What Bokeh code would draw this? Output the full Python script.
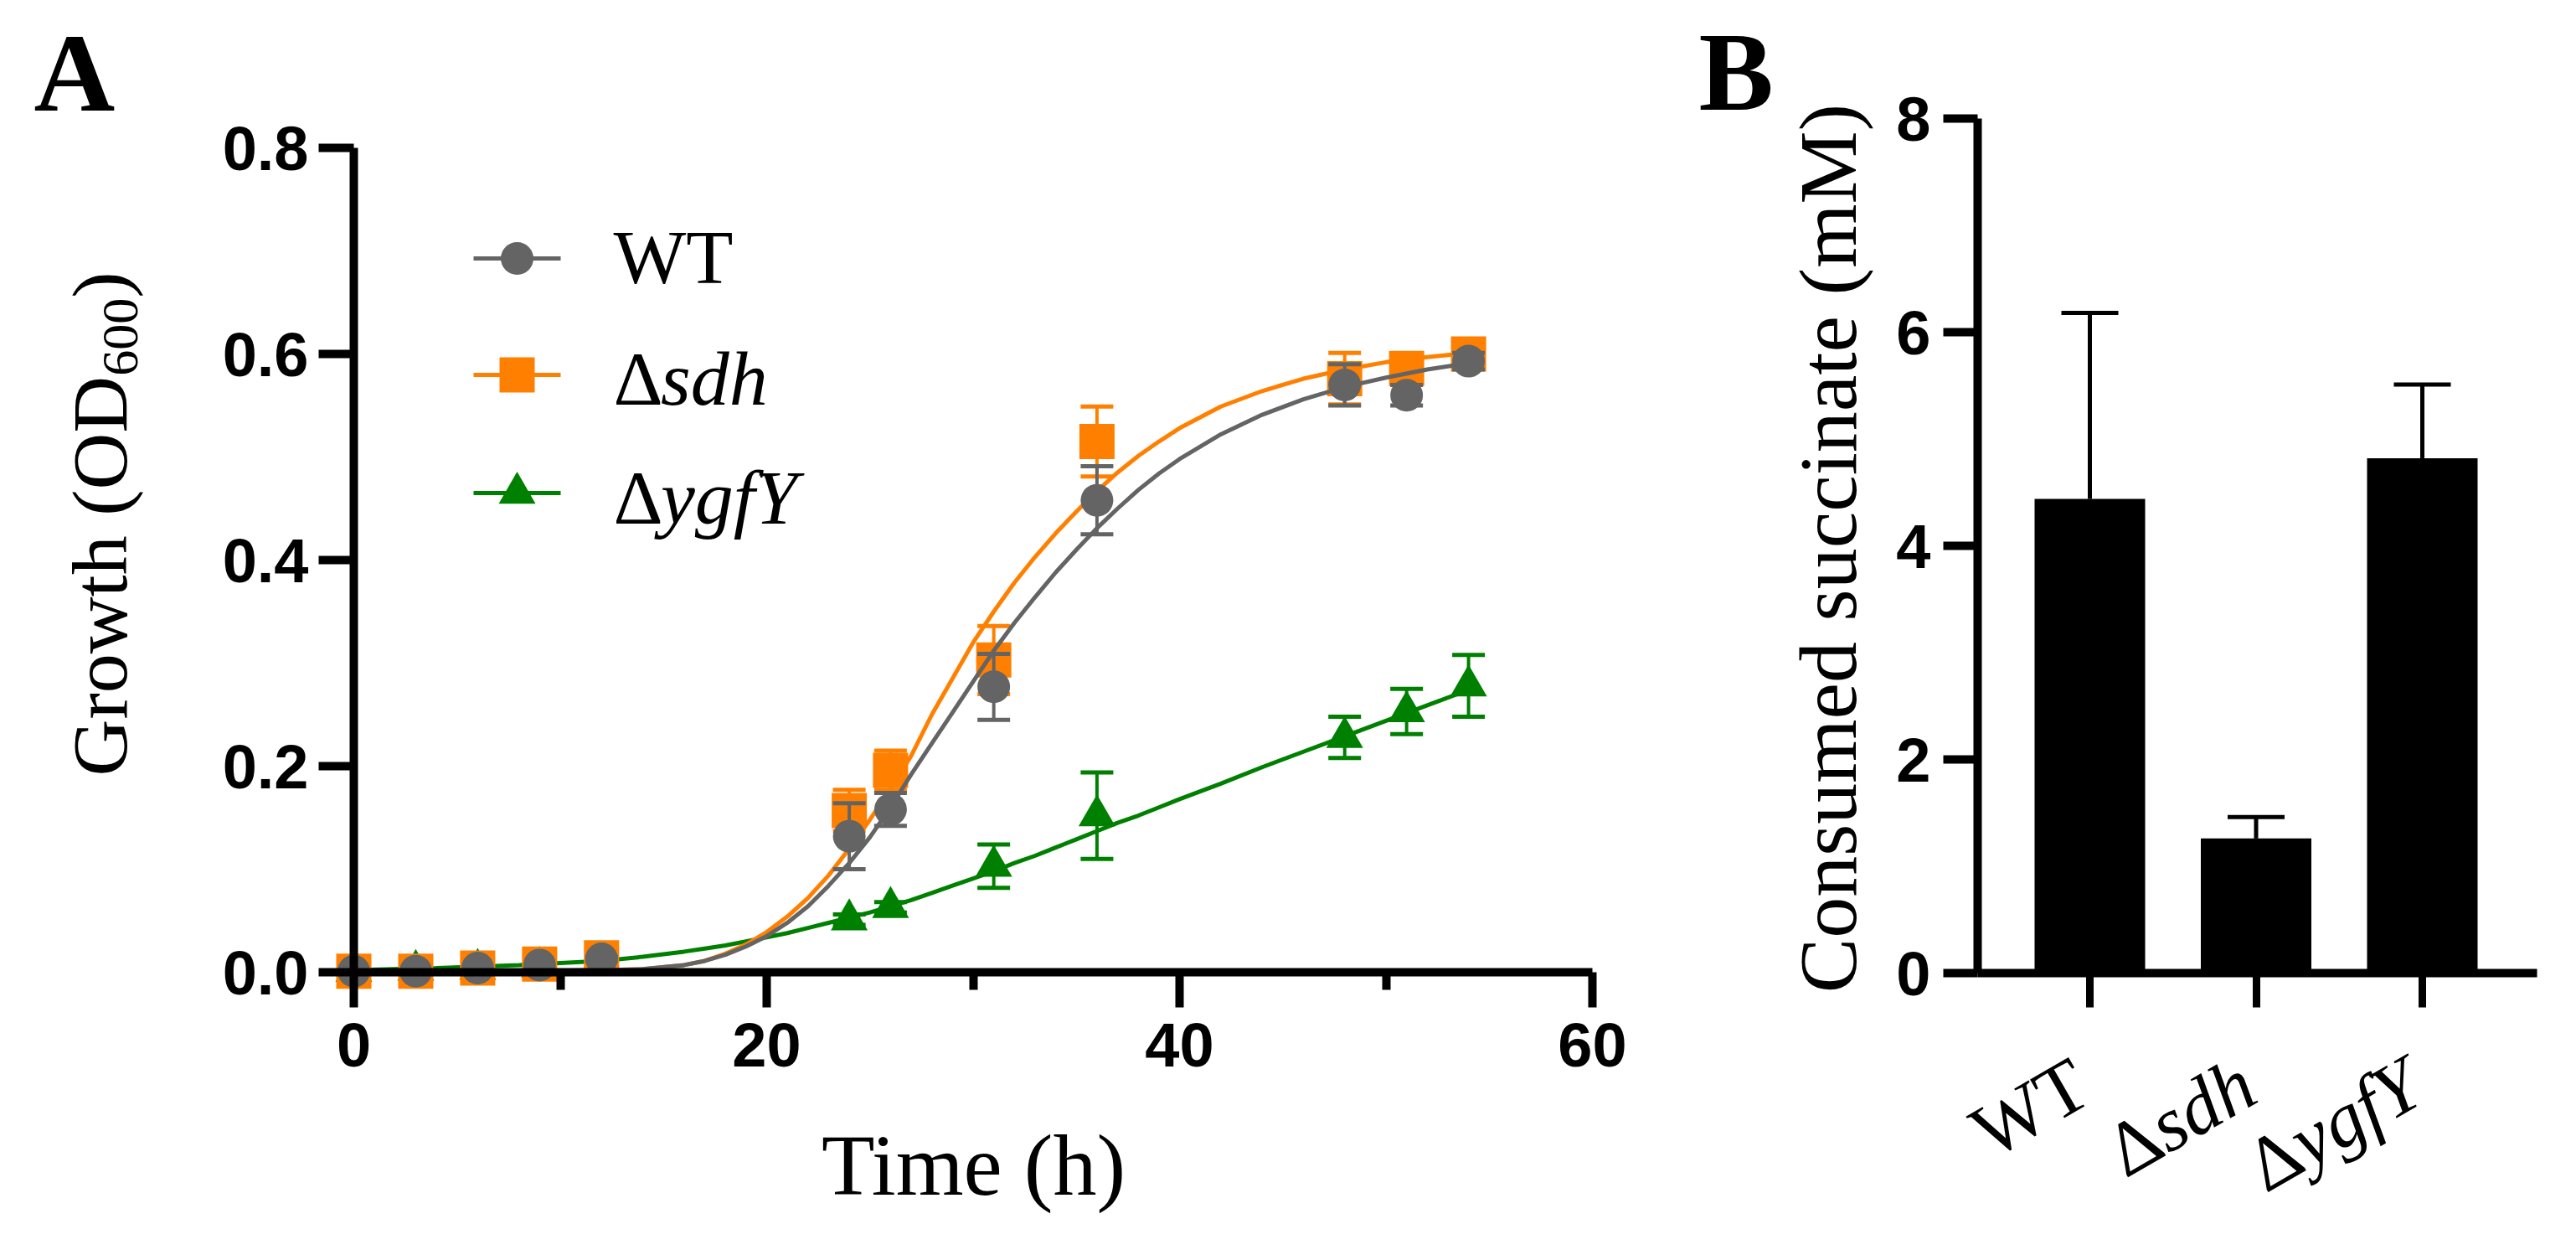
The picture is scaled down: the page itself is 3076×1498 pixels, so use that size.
import math
from bokeh.plotting import figure
from bokeh.layouts import row
from bokeh.models import Range1d, FixedTicker, NumeralTickFormatter
from bokeh.core.properties import value
from bokeh.embed import file_html
from bokeh.resources import INLINE

# ---------------- data ----------------
time_h = [0, 3, 6, 9, 12, 24, 26, 31, 36, 48, 51, 54]
wt_od = [0.001, 0.001, 0.004, 0.007, 0.013, 0.132, 0.158, 0.277, 0.458, 0.570, 0.560, 0.593]
wt_sd = [0.0, 0.0, 0.0, 0.0, 0.002, 0.032, 0.016, 0.032, 0.033, 0.020, 0.010, 0.008]
sdh_od = [0.001, 0.001, 0.004, 0.008, 0.014, 0.157, 0.196, 0.303, 0.515, 0.576, 0.586, 0.600]
sdh_sd = [0.0, 0.0, 0.0, 0.0, 0.002, 0.020, 0.019, 0.033, 0.034, 0.025, 0.012, 0.008]
ygfy_od = [0.001, 0.002, 0.003, 0.005, 0.008, 0.051, 0.063, 0.103, 0.152, 0.228, 0.253, 0.278]
ygfy_sd = [0.0, 0.0, 0.0, 0.0, 0.0, 0.005, 0.005, 0.021, 0.042, 0.020, 0.022, 0.030]

# fitted growth curves
fit_time = [0, 4, 8, 12, 14, 16, 17, 18, 19, 20, 21, 22, 23, 24, 25, 26, 27, 28, 29, 30,
            31, 32, 33, 34, 35, 36, 37, 38, 39, 40, 42, 44, 46, 48, 50, 52, 54]
wt_fit = [0.000, 0.000, 0.001, 0.002, 0.003, 0.007, 0.011, 0.017, 0.025, 0.035, 0.048, 0.064,
          0.084, 0.106, 0.131, 0.160, 0.192, 0.222, 0.252, 0.282, 0.312, 0.339, 0.364, 0.388,
          0.410, 0.431, 0.450, 0.468, 0.484, 0.498, 0.522, 0.541, 0.556, 0.568, 0.577, 0.585, 0.591]
sdh_fit = [0.000, 0.000, 0.001, 0.002, 0.003, 0.007, 0.011, 0.018, 0.027, 0.039, 0.054, 0.072,
           0.094, 0.120, 0.148, 0.178, 0.210, 0.250, 0.285, 0.320, 0.350, 0.378, 0.403, 0.426,
           0.447, 0.467, 0.485, 0.501, 0.515, 0.528, 0.549, 0.564, 0.576, 0.585, 0.592, 0.597, 0.601]
ygfy_fit = [0.002, 0.004, 0.007, 0.011, 0.015, 0.020, 0.023, 0.026, 0.030, 0.034, 0.038, 0.043,
            0.048, 0.053, 0.058, 0.064, 0.070, 0.077, 0.084, 0.091, 0.098, 0.106, 0.113, 0.121,
            0.129, 0.137, 0.145, 0.152, 0.160, 0.168, 0.183, 0.199, 0.214, 0.229, 0.244, 0.259, 0.274]

strain_delta = ["", "Δ", "Δ"]
strain_gene = ["WT", "sdh", "ygfY"]
succinate_mM = [4.44, 1.26, 4.82]
succinate_sd = [1.74, 0.20, 0.69]

x_ticks_h = [0, 20, 40, 60]
x_minor_h = [10, 30, 50]
y_ticks_od = [0, 0.2, 0.4, 0.6, 0.8]
y_ticks_mM = [0, 2, 4, 6, 8]

# ---------------- layout (page pixels) ----------------
H = 1498
A_W = 2000
B_W = 1076
A_X0, A_PXH = 422.0, 24.65      # t = 0 at x px, px per hour
A_Y0, A_PXOD = 1160.0, 1230.0   # OD = 0 at y px, px per OD unit
B_X0, B_PXC = 2495.0, 198.5     # first bar centre, px between bars
B_Y0, B_PXMM = 1161.0, 127.5

GREY = "#646464"
ORANGE = "#FF8000"
GREEN = "#008000"
SERIF = "Liberation Serif"
SANS = "Liberation Sans"
MID = 0.3375   # em distance from the alphabetic baseline to the em-box middle


def ax(px):
    return (px - A_X0) / A_PXH


def ay(py):
    return (A_Y0 - py) / A_PXOD


def bx(px):
    return (px - B_X0) / B_PXC


def by(py):
    return (B_Y0 - py) / B_PXMM


def add_text(p, fx, fy, px, py, txt, size, font=SERIF, style="normal", align="left",
             angle=0.0):
    """(px, py): page-pixel point on the alphabetic baseline; text is drawn middle-anchored."""
    upx, upy = -math.sin(angle), -math.cos(angle)
    mx = px + MID * size * upx
    my = py + MID * size * upy
    p.text(x=[fx(mx)], y=[fy(my)], text=[txt], text_font=value(font),
           text_font_size=value(f"{size}px"), text_font_style=value(style),
           text_align=value(align), text_baseline=value("middle"), angle=angle,
           text_color="black")


def style_axis(axis, font_px, standoff, tick_out, lw=10):
    axis.axis_line_color = "black"
    axis.axis_line_width = lw
    axis.major_tick_line_color = "black"
    axis.major_tick_line_width = lw
    axis.major_tick_out = tick_out
    axis.major_tick_in = 0
    axis.minor_tick_line_color = "black"
    axis.minor_tick_line_width = lw
    axis.minor_tick_in = 0
    axis.major_label_text_font = SANS
    axis.major_label_text_font_style = "bold"
    axis.major_label_text_font_size = f"{font_px}px"
    axis.major_label_text_color = "black"
    axis.major_label_standoff = standoff


# ================= Panel A =================
pA = figure(width=A_W, height=H, x_range=Range1d(ax(0), ax(A_W)),
            y_range=Range1d(ay(H), ay(0)), output_backend="svg",
            toolbar_location=None, title=None, min_border=0)
pA.outline_line_color = None
pA.xgrid.visible = False
pA.ygrid.visible = False
pA.background_fill_color = "white"
pA.border_fill_color = "white"

xa = pA.xaxis[0]
xa.fixed_location = 0
xa.bounds = (0, 60)
xa.ticker = FixedTicker(ticks=x_ticks_h, minor_ticks=x_minor_h)
style_axis(xa, 74, 18, 42)
xa.minor_tick_out = 21

ya = pA.yaxis[0]
ya.fixed_location = 0
ya.bounds = (0, 0.8)
ya.ticker = FixedTicker(ticks=y_ticks_od, minor_ticks=[])
ya.formatter = NumeralTickFormatter(format="0.0")
style_axis(ya, 74, 12, 42)

cap_half_h = 19.5 / A_PXH
series = [
    (ygfy_fit, ygfy_od, ygfy_sd, GREEN, "triangle", 44),
    (sdh_fit, sdh_od, sdh_sd, ORANGE, "square", 42),
    (wt_fit, wt_od, wt_sd, GREY, "circle", 39),
]
for fit, od, sd, col, mk, sz in series:
    pA.line(fit_time, fit, line_color=col, line_width=5)
    tt = [t for t, s in zip(time_h, sd) if s > 0]
    lo = [m - s for m, s in zip(od, sd) if s > 0]
    hi = [m + s for m, s in zip(od, sd) if s > 0]
    pA.segment(x0=tt, y0=lo, x1=tt, y1=hi, line_color=col, line_width=4)
    for ends in (lo, hi):
        pA.segment(x0=[t - cap_half_h for t in tt], y0=ends,
                   x1=[t + cap_half_h for t in tt], y1=ends,
                   line_color=col, line_width=5)
    pA.scatter(time_h, od, marker=mk, size=sz, fill_color=col, line_color=None)

# legend (custom, so that gene names can be italic)
leg_rows = [(308, 338, GREY, "circle", 39, "", "WT"),
            (447, 483, ORANGE, "square", 42, "Δ", "sdh"),
            (588, 625, GREEN, "triangle", 44, "Δ", "ygfY")]
LEG_FS = 92
for yc, ybase, col, mk, sz, dl, gene in leg_rows:
    pA.segment(x0=[ax(565)], y0=[ay(yc)], x1=[ax(669)], y1=[ay(yc)],
               line_color=col, line_width=5)
    pA.scatter([ax(617)], [ay(yc)], marker=mk, size=sz, fill_color=col, line_color=None)
    if dl:
        add_text(pA, ax, ay, 732, ybase, dl, LEG_FS)
        add_text(pA, ax, ay, 732 + 0.613 * LEG_FS, ybase, gene, LEG_FS, style="italic")
    else:
        add_text(pA, ax, ay, 732, ybase, gene, LEG_FS)

# axis titles and panel letter
add_text(pA, ax, ay, 1162, 1425, "Time (h)", 104, align="center")
FY = 94
FS = 62
yl_base = 150
total = 5.082 * FY + 1.5 * FS + 0.333 * FY
start = 625 + total / 2
add_text(pA, ax, ay, yl_base, start, "Growth (OD", FY, angle=math.pi / 2)
p2 = start - 5.082 * FY
add_text(pA, ax, ay, yl_base + 0.15 * FY, p2, "600", FS, angle=math.pi / 2)
p3 = p2 - 1.5 * FS
add_text(pA, ax, ay, yl_base, p3, ")", FY, angle=math.pi / 2)
add_text(pA, ax, ay, 40, 132, "A", 134, style="bold")

# ================= Panel B =================
pB = figure(width=B_W, height=H, x_range=Range1d(bx(A_W), bx(A_W + B_W)),
            y_range=Range1d(by(H), by(0)), output_backend="svg",
            toolbar_location=None, title=None, min_border=0)
pB.outline_line_color = None
pB.xgrid.visible = False
pB.ygrid.visible = False
pB.background_fill_color = "white"
pB.border_fill_color = "white"

idx = list(range(len(succinate_mM)))
pB.vbar(x=idx, width=132 / B_PXC, bottom=0, top=succinate_mM,
        fill_color="black", line_color=None)
tops = [m + s for m, s in zip(succinate_mM, succinate_sd)]
pB.segment(x0=idx, y0=succinate_mM, x1=idx, y1=tops, line_color="black", line_width=5)
cap_half_c = 34 / B_PXC
pB.segment(x0=[i - cap_half_c for i in idx], y0=tops, x1=[i + cap_half_c for i in idx],
           y1=tops, line_color="black", line_width=5)

bxa = pB.xaxis[0]
bxa.fixed_location = 0
bxa.bounds = (bx(2361), bx(3029))
bxa.ticker = FixedTicker(ticks=idx, minor_ticks=[])
style_axis(bxa, 74, 10, 41)
bxa.major_tick_line_width = 9
bxa.major_label_overrides = {i: "" for i in idx}

bya = pB.yaxis[0]
bya.fixed_location = bx(2361)
bya.bounds = (0, 8)
bya.ticker = FixedTicker(ticks=y_ticks_mM, minor_ticks=[])
style_axis(bya, 74, 15, 41)

# rotated category labels
ANG = math.radians(30)
XL_FS = 92
ux, uy = math.cos(ANG), -math.sin(ANG)
it_w = {"sdh": 1.389, "ygfY": 1.778}
for i, (dl, gene) in enumerate(zip(strain_delta, strain_gene)):
    ex = B_X0 + i * B_PXC + 6
    ey = 1313
    if dl:
        add_text(pB, bx, by, ex, ey, gene, XL_FS, style="italic", align="right", angle=ANG)
        w = it_w[gene] * XL_FS
        add_text(pB, bx, by, ex - w * ux, ey - w * uy, dl, XL_FS, align="right", angle=ANG)
    else:
        add_text(pB, bx, by, ex, ey, gene, XL_FS, align="right", angle=ANG)

add_text(pB, bx, by, 2216, 654, "Consumed succinate (mM)", 98, align="center",
         angle=math.pi / 2)
add_text(pB, bx, by, 2028, 131, "B", 134, style="bold")

layout = row(pA, pB, spacing=0)
open("out.html", "w").write(file_html(layout, INLINE))
